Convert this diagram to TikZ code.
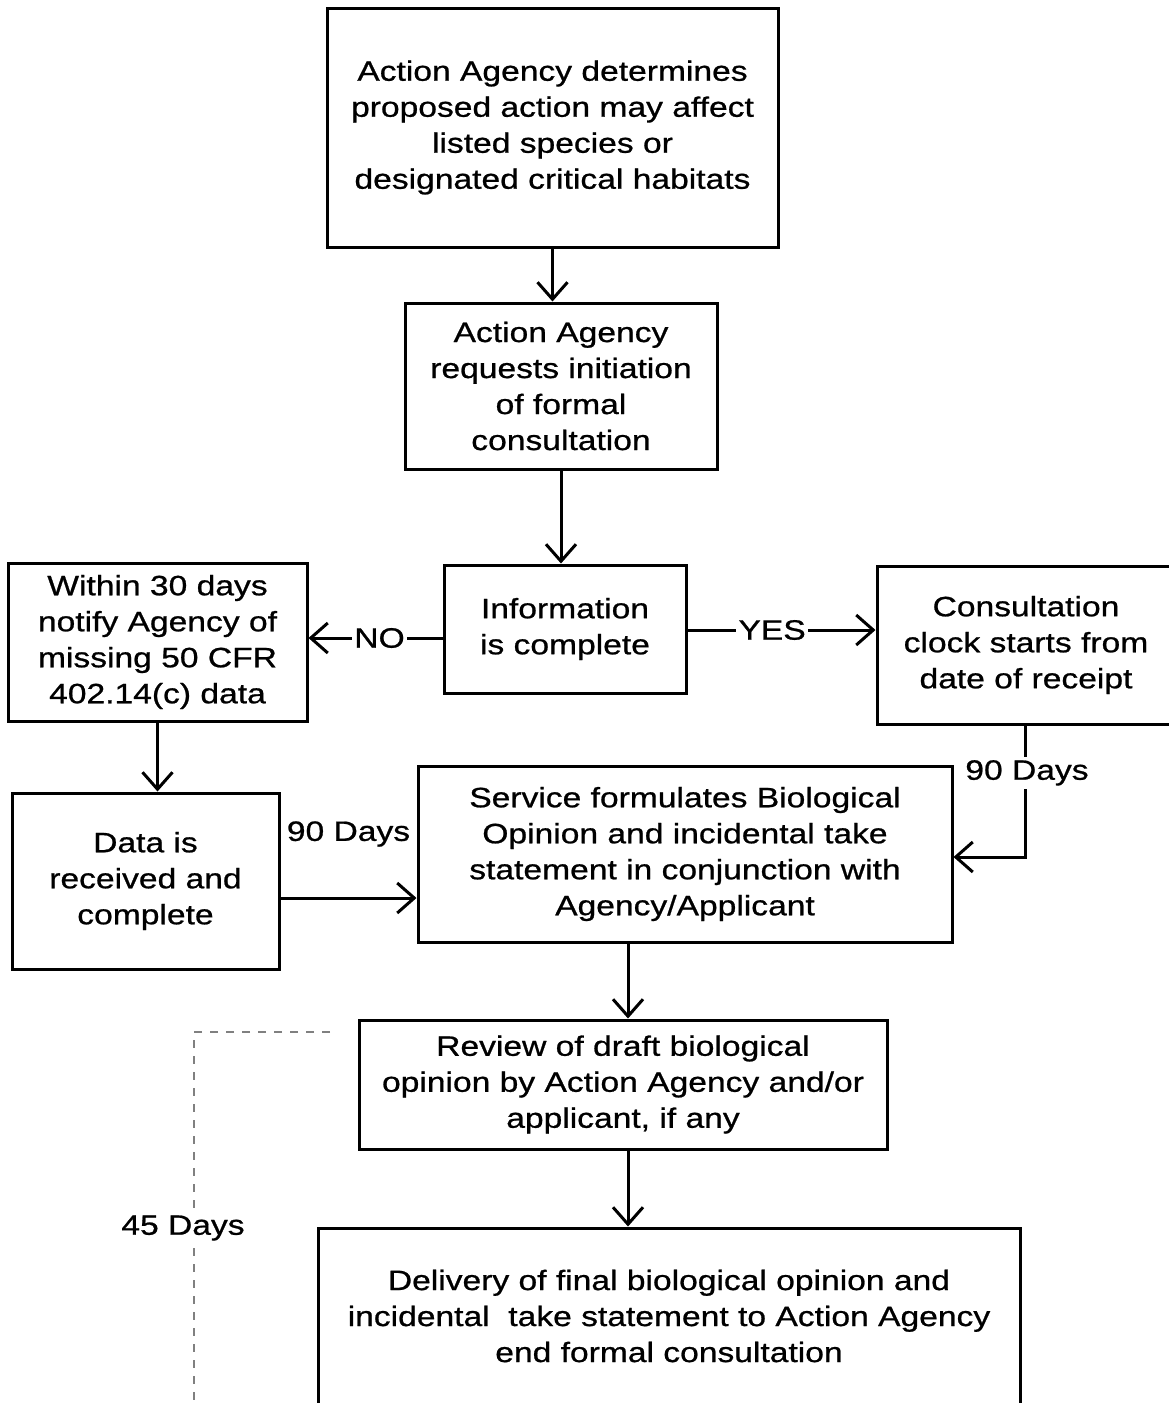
\documentclass[tikz,border=0pt]{standalone}
\usepackage{fontspec}
\setmainfont{Liberation Sans}[FakeStretch=1.2, FakeBold=0.8]
\usetikzlibrary{arrows.meta}
\tikzset{
  box/.style={draw, line width=3pt, align=center, inner sep=0pt, font=\fontsize{28}{36}\selectfont},
  arr/.style={line width=3pt, -{Straight Barb[length=17pt,width=30pt,line width=3pt]}},
  lbl/.style={fill=white, inner sep=3pt, font=\fontsize{28}{36}\selectfont},
  dashline/.style={dash pattern=on 8pt off 8pt, line width=1.6pt, gray}
}
\begin{document}
\begin{tikzpicture}[x=1pt,y=-1pt]
\useasboundingbox (0,0) rectangle (1169,1403);
\clip (0,0) rectangle (1169,1403);
\fill[white] (0,0) rectangle (1169,1403);

\node[box, minimum width=451, minimum height=239] (b1) at (552.5,127.5)
  {Action Agency determines\\proposed action may affect\\listed species or\\designated critical habitats};
\node[box, minimum width=312, minimum height=166] (b2) at (561,386)
  {Action Agency\\requests initiation\\of formal\\consultation};
\node[box, minimum width=242, minimum height=128] (info) at (565,629)
  {Information\\is complete};
\node[box, minimum width=299, minimum height=158] (within) at (157.5,642)
  {Within 30 days\\notify Agency of\\missing 50 CFR\\402.14(c) data};
\node[box, minimum width=298, minimum height=158] (clock) at (1026,645)
  {Consultation\\clock starts from\\date of receipt};
\node[box, minimum width=267, minimum height=176] (data) at (145.5,881)
  {Data is\\received and\\complete};
\node[box, minimum width=534, minimum height=176] (svc) at (685,854)
  {Service formulates Biological\\Opinion and incidental take\\statement in conjunction with\\Agency/Applicant};
\node[box, minimum width=528, minimum height=129] (rev) at (623,1084.5)
  {Review of draft biological\\opinion by Action Agency and/or\\applicant, if any};
\node[box, minimum width=702, minimum height=176] (del) at (669,1316)
  {Delivery of final biological opinion and\\incidental\ \ take statement to Action Agency\\end formal consultation};

% main flow
\draw[arr] (b1.south) -- (b1.south |- b2.north);
\draw[arr] (b2.south) -- (b2.south |- info.north);
\draw[arr] ([xshift=5pt]rev.north |- svc.south) -- ([xshift=5pt]rev.north);
\draw[arr] ([xshift=5pt]rev.south) -- ([xshift=5pt]rev.south |- del.north);

% NO / YES
\draw[arr] ([yshift=-9pt]info.west) -- node[lbl, inner sep=2pt, pos=0.47] {NO} ([yshift=-9pt]info.west -| within.east);
\draw[arr] ([yshift=-1pt]info.east) -- node[lbl, inner sep=2pt, pos=0.45] {YES} ([yshift=-1pt]info.east -| clock.west);

% left branch
\draw[arr] (within.south) -- (within.south |- data.north);
\draw[arr] ([yshift=-17pt]data.east) -- node[midway, yshift=64pt, font=\fontsize{28}{36}\selectfont] {90 Days} ([yshift=-17pt]data.east -| svc.west);

% right branch
\coordinate (rc) at ([xshift=-1pt]clock.south);
\draw[arr] (rc) |- node[lbl, pos=0.18, xshift=2pt] {90 Days} ([yshift=-3pt]svc.east);

% dashed 45 days
\coordinate (d0) at (330,1032);
\coordinate (d1) at (194,1410);
\draw[dashline] (d0) -| (d1);
\node[lbl, inner sep=2pt] (d45) at (183,1228) {45 Days};
\end{tikzpicture}
\end{document}
